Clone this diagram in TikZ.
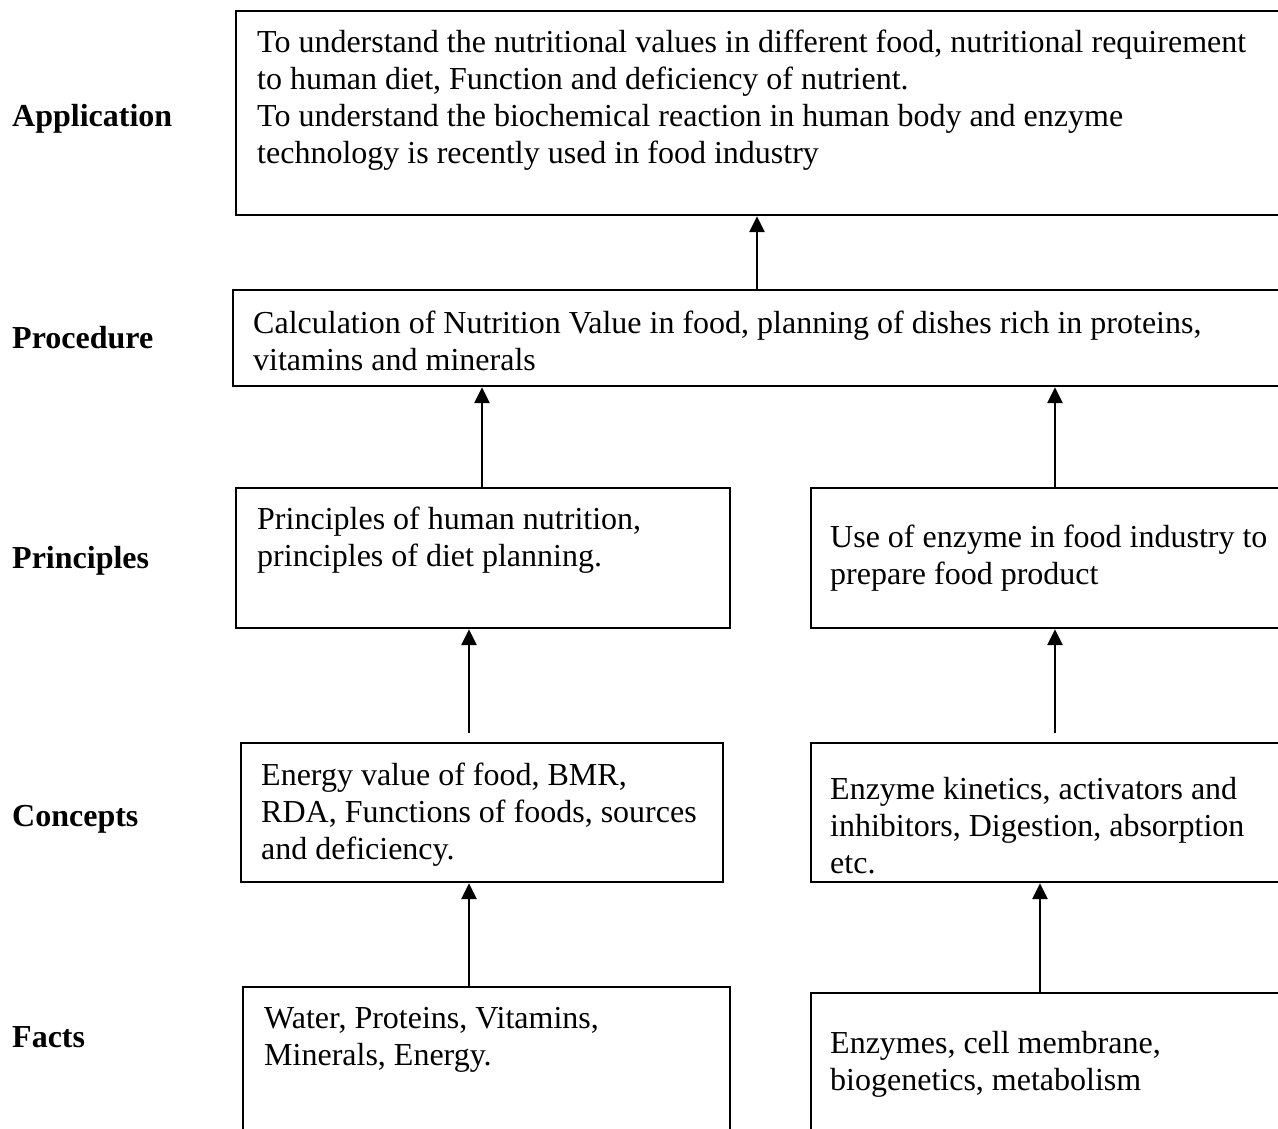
\documentclass[tikz,border=0pt]{standalone}
\usepackage{fontspec}
\setmainfont{Liberation Serif}
\usetikzlibrary{arrows.meta}

\begin{document}
\begin{tikzpicture}[x=1pt,y=-1pt,
  box/.style={draw=black,line width=2.2pt,rectangle,inner sep=0pt,anchor=north west},
  txt/.style={anchor=north west,inner sep=0pt,align=left,font=\fontsize{32}{37}\selectfont},
  lvl/.style={anchor=base west,inner sep=0pt,font=\fontsize{32}{37}\selectfont\bfseries},
  arr/.style={line width=2.8pt,-{Triangle[length=16pt,width=15pt]}}]
\useasboundingbox (0,0) rectangle (1278,1129);
\clip (0,0) rectangle (1278,1129);

% level labels
\node[lvl] (lapp)  at (12,127)  {Application};
\node[lvl] (lproc) at (12,348)  {Procedure};
\node[lvl] (lprin) at (12,568)  {Principles};
\node[lvl] (lconc) at (12,826)  {Concepts};
\node[lvl] (lfact) at (12,1047) {Facts};

% boxes (right and bottom ones run past the page edge)
\node[box,minimum width=1065pt,minimum height=204pt] (app)  at (235,10)  {};
\node[box,minimum width=1068pt,minimum height=96pt]  (proc) at (232,289) {};
\node[box,minimum width=494pt,minimum height=140pt]  (prinL) at (235,487) {};
\node[box,minimum width=490pt,minimum height=140pt]  (prinR) at (810,487) {};
\node[box,minimum width=482pt,minimum height=139pt]  (concL) at (240,742) {};
\node[box,minimum width=490pt,minimum height=139pt]  (concR) at (810,742) {};
\node[box,minimum width=487pt,minimum height=170pt]  (factL) at (242,986) {};
\node[box,minimum width=490pt,minimum height=170pt]  (factR) at (810,992) {};

% box texts
\node[txt] (tapp) at (257,30) {To understand the nutritional values in different food, nutritional requirement\\
to human diet, Function and deficiency of nutrient.\\
To understand the biochemical reaction in human body and enzyme\\
technology is recently used in food industry};
\node[txt] (tproc) at (253,311) {Calculation of Nutrition Value in food, planning of dishes rich in proteins,\\
vitamins and minerals};
\node[txt] (tprinL) at (257,507) {Principles of human nutrition,\\principles of diet planning.};
\node[txt] (tprinR) at (830,525) {Use of enzyme in food industry to\\prepare food product};
\node[txt] (tconcL) at (261,763) {Energy value of food, BMR,\\RDA, Functions of foods, sources\\and deficiency.};
\node[txt] (tconcR) at (830,777) {Enzyme kinetics, activators and\\inhibitors, Digestion, absorption\\etc.};
\node[txt] (tfactL) at (264,1007) {Water, Proteins, Vitamins,\\Minerals, Energy.};
\node[txt] (tfactR) at (830,1031) {Enzymes, cell membrane,\\biogenetics, metabolism};

% arrow columns
\coordinate (c1) at (757,0);
\coordinate (c2) at (482,0);
\coordinate (c3) at (1055,0);
\coordinate (c4) at (469,0);
\coordinate (c5) at (1040,0);

% connectors
\draw[arr] (proc.north -| c1) -- (app.south -| c1);
\draw[arr] (prinL.north -| c2) -- (proc.south -| c2);
\draw[arr] (prinR.north -| c3) -- (proc.south -| c3);
\draw[arr] ([yshift=9pt]concL.north -| c4) -- (prinL.south -| c4);
\draw[arr] ([yshift=9pt]concR.north -| c3) -- (prinR.south -| c3);
\draw[arr] (factL.north -| c4) -- (concL.south -| c4);
\draw[arr] (factR.north -| c5) -- (concR.south -| c5);
\end{tikzpicture}
\end{document}
